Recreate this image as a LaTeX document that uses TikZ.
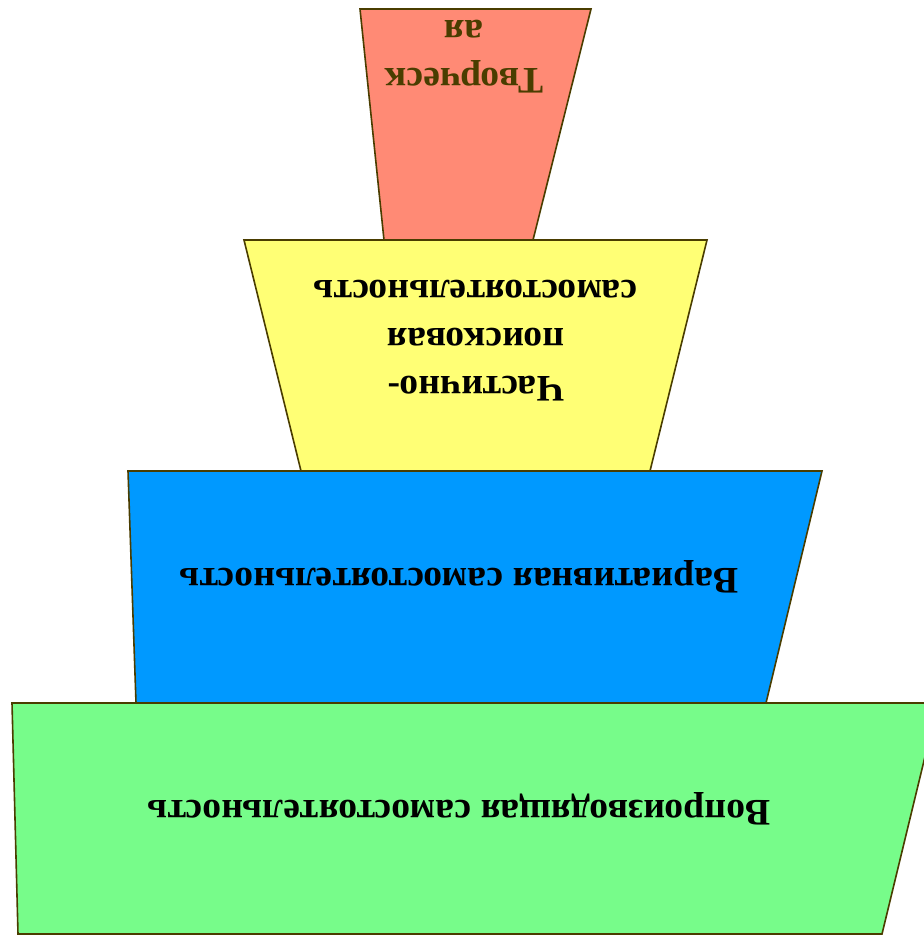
\documentclass[tikz,border=0pt]{standalone}
\usepackage{fontspec}
\setmainfont{Liberation Serif}
\usepackage{tikz}
\usetikzlibrary{positioning}

\definecolor{tieredge}{HTML}{4A3D00}
\definecolor{tierred}{HTML}{FF8A75}
\definecolor{tieryellow}{HTML}{FFFF75}
\definecolor{tierblue}{HTML}{0099FF}
\definecolor{tiergreen}{HTML}{77FC8A}

\begin{document}
\begin{tikzpicture}[
    x=1pt, y=-1pt,
    tier/.style={draw=tieredge, line width=1.6pt, line join=miter},
    tierlabel/.style={rotate=180, align=center, text=black,
        font=\bfseries\fontsize{37.5}{48}\selectfont}
]

% Page frame
\useasboundingbox (0,0) rectangle (924,935);
\clip (0,0) rectangle (924,935);

% Tiers (the whole pyramid is upside down)
\draw[tier, fill=tiergreen] (12,703) -- (938,703) -- (882,934) -- (18,934) -- cycle;
\draw[tier, fill=tierblue] (128,471) -- (822,471) -- (766,703) -- (136,703) -- cycle;
\draw[tier, fill=tieryellow] (244,240) -- (707,240) -- (650,471) -- (301,471) -- cycle;
\draw[tier, fill=tierred] (360,9) -- (591,9) -- (533,240) -- (384,240) -- cycle;

% Labels
\node[tierlabel, text=tieredge] (creative) at (464,57) {Творческ\\ая};
\node[tierlabel] (search) at (476,341) {Частично-\\поисковая\\самостоятельность};
\node[tierlabel] (variative) at (459,577) {Вариативная самостоятельность};
\node[tierlabel] (reproductive) at (459,809) {Вопроизводящая самостоятельность};

\end{tikzpicture}
\end{document}
